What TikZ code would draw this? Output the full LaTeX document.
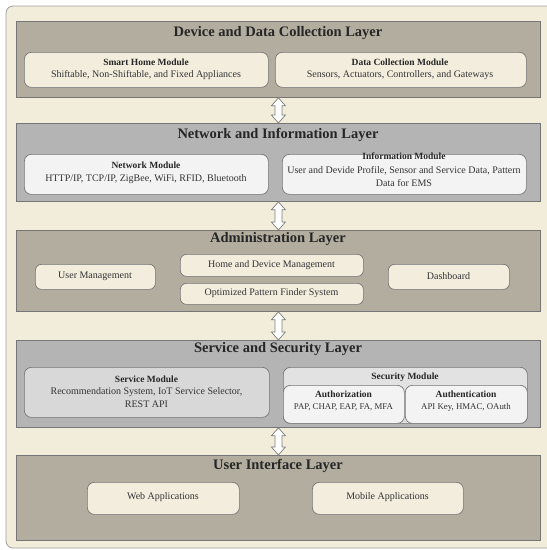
\documentclass[tikz,border=0pt]{standalone}
\usepackage{fontspec}
\setmainfont{Liberation Serif}
\usetikzlibrary{calc}
\definecolor{cream}{RGB}{242,236,219}
\definecolor{taupe}{RGB}{178,173,158}
\definecolor{graylayer}{RGB}{180,180,180}
\definecolor{modcream}{RGB}{243,237,222}
\definecolor{modlight}{RGB}{243,243,243}
\definecolor{modservice}{RGB}{216,216,216}
\definecolor{modsecurity}{RGB}{226,226,226}
\definecolor{edgegray}{RGB}{118,118,118}
\definecolor{arrowgray}{RGB}{125,125,125}
\begin{document}
\begin{tikzpicture}[x=1pt,y=-1pt,
  layerbox/.style={draw=edgegray, line width=0.8pt, anchor=north west, inner sep=0pt},
  tanlayer/.style={layerbox, fill=taupe},
  greylayer/.style={layerbox, fill=graylayer},
  modbox/.style={draw=edgegray, line width=0.7pt, rounded corners=7pt, anchor=north west, inner sep=0pt},
  creammod/.style={modbox, fill=modcream},
  lightmod/.style={modbox, fill=modlight},
  layertitle/.style={font=\fontsize{14.5}{16}\selectfont\bfseries, text=black!85, inner sep=0pt},
  modtitle/.style={font=\fontsize{9.5}{11}\selectfont\bfseries, text=black!85, inner sep=0pt},
  modtext/.style={font=\fontsize{10}{13}\selectfont, text=black!80, inner sep=0pt, align=center},
  smalltext/.style={font=\fontsize{8.8}{11}\selectfont, text=black!80, inner sep=0pt},
  hollowarrow/.style={draw=arrowgray, fill=white, line width=0.7pt, line join=miter}
]
\useasboundingbox (0,0) rectangle (547,550);
% outer frame
\path[draw=edgegray!70, line width=0.8pt, fill=cream, rounded corners=7pt] (6,6) rectangle (560,548);

% ---------- Layer 1
\node[tanlayer, minimum width=524pt, minimum height=76pt] (L1) at (16,21) {};
\node[layertitle] (L1t) at (278,33) {Device and Data Collection Layer};
\node[creammod, minimum width=244pt, minimum height=35pt] (SH) at (24,52) {};
\node[modtitle] (SHt) at (146,62) {Smart Home Module};
\node[modtext] (SHb) at (146,75) {Shiftable, Non-Shiftable, and Fixed Appliances};
\node[creammod, minimum width=251pt, minimum height=35pt] (DC) at (275,52) {};
\node[modtitle] (DCt) at (400,62) {Data Collection Module};
\node[modtext] (DCb) at (400,75) {Sensors, Actuators, Controllers, and Gateways};

% ---------- Layer 2
\node[greylayer, minimum width=524pt, minimum height=78pt] (L2) at (16,123) {};
\node[layertitle] (L2t) at (278,135) {Network and Information Layer};
\node[lightmod, minimum width=244pt, minimum height=40pt] (NM) at (24,154) {};
\node[modtitle] (NMt) at (146,165) {Network Module};
\node[modtext] (NMb) at (146,179) {HTTP/IP, TCP/IP, ZigBee, WiFi, RFID, Bluetooth};
\node[lightmod, minimum width=244pt, minimum height=40pt] (IM) at (282,154) {};
\node[modtitle] (IMt) at (404,156) {Information Module};
\node[modtext] (IMb) at (404,177) {User and Devide Profile, Sensor and Service Data, Pattern\\Data for EMS};

% ---------- Layer 3
\node[tanlayer, minimum width=524pt, minimum height=81pt] (L3) at (16,230) {};
\node[layertitle] (L3t) at (278,239) {Administration Layer};
\node[creammod, minimum width=120pt, minimum height=25pt, rounded corners=6pt] (UM) at (35,264) {};
\node[modtext] (UMt) at (95,276.5) {User Management};
\node[creammod, minimum width=183pt, minimum height=22pt, rounded corners=6pt] (HD) at (180,254) {};
\node[modtext] (HDt) at (271.5,265) {Home and Device Management};
\node[creammod, minimum width=183pt, minimum height=21pt, rounded corners=6pt] (OP) at (180,283) {};
\node[modtext] (OPt) at (271.5,293.5) {Optimized Pattern Finder System};
\node[creammod, minimum width=121pt, minimum height=25pt, rounded corners=6pt] (DB) at (388,264) {};
\node[modtext] (DBt) at (448.5,276.5) {Dashboard};

% ---------- Layer 4
\node[greylayer, minimum width=524pt, minimum height=87pt] (L4) at (16,340) {};
\node[layertitle] (L4t) at (278,349) {Service and Security Layer};
\node[modbox, fill=modservice, minimum width=245pt, minimum height=50pt] (SM) at (24,367) {};
\node[modtitle] (SMt) at (146.5,379) {Service Module};
\node[modtext] (SMb) at (146.5,397.5) {Recommendation System, IoT Service Selector,\\REST API};
\node[modbox, fill=modsecurity, minimum width=244pt, minimum height=56pt] (SC) at (283,367) {};
\node[modtitle] (SCt) at (405,377) {Security Module};
\node[lightmod, minimum width=121pt, minimum height=38pt] (AZ) at (283,385) {};
\node[modtitle] (AZt) at (343.5,394) {Authorization};
\node[smalltext] (AZb) at (343.5,407) {PAP, CHAP, EAP, FA, MFA};
\node[lightmod, minimum width=122pt, minimum height=38pt] (AN) at (405,385) {};
\node[modtitle] (ANt) at (466,394) {Authentication};
\node[smalltext] (ANb) at (466,407) {API Key, HMAC, OAuth};

% ---------- Layer 5
\node[tanlayer, minimum width=524pt, minimum height=85pt] (L5) at (16,455) {};
\node[layertitle] (L5t) at (278,466) {User Interface Layer};
\node[creammod, minimum width=152pt, minimum height=32pt, rounded corners=7pt] (WA) at (87,482) {};
\node[modtext] (WAt) at (163,497.5) {Web Applications};
\node[creammod, minimum width=151pt, minimum height=32pt, rounded corners=7pt] (MA) at (312,482) {};
\node[modtext] (MAt) at (387.5,497.5) {Mobile Applications};

% ---------- hollow double arrows between layers
\foreach \a/\b in {L1/L2, L2/L3, L3/L4, L4/L5}{
  \draw[hollowarrow] let \p1=(\a.south), \p2=(\b.north) in
    (\x1,\y1) -- (\x1+7pt,\y1-8pt) -- (\x1+3.5pt,\y1-8pt) -- (\x1+3.5pt,\y2+8pt)
    -- (\x1+7pt,\y2+8pt) -- (\x1,\y2) -- (\x1-7pt,\y2+8pt) -- (\x1-3.5pt,\y2+8pt)
    -- (\x1-3.5pt,\y1-8pt) -- (\x1-7pt,\y1-8pt) -- cycle;
}
\end{tikzpicture}
\end{document}
